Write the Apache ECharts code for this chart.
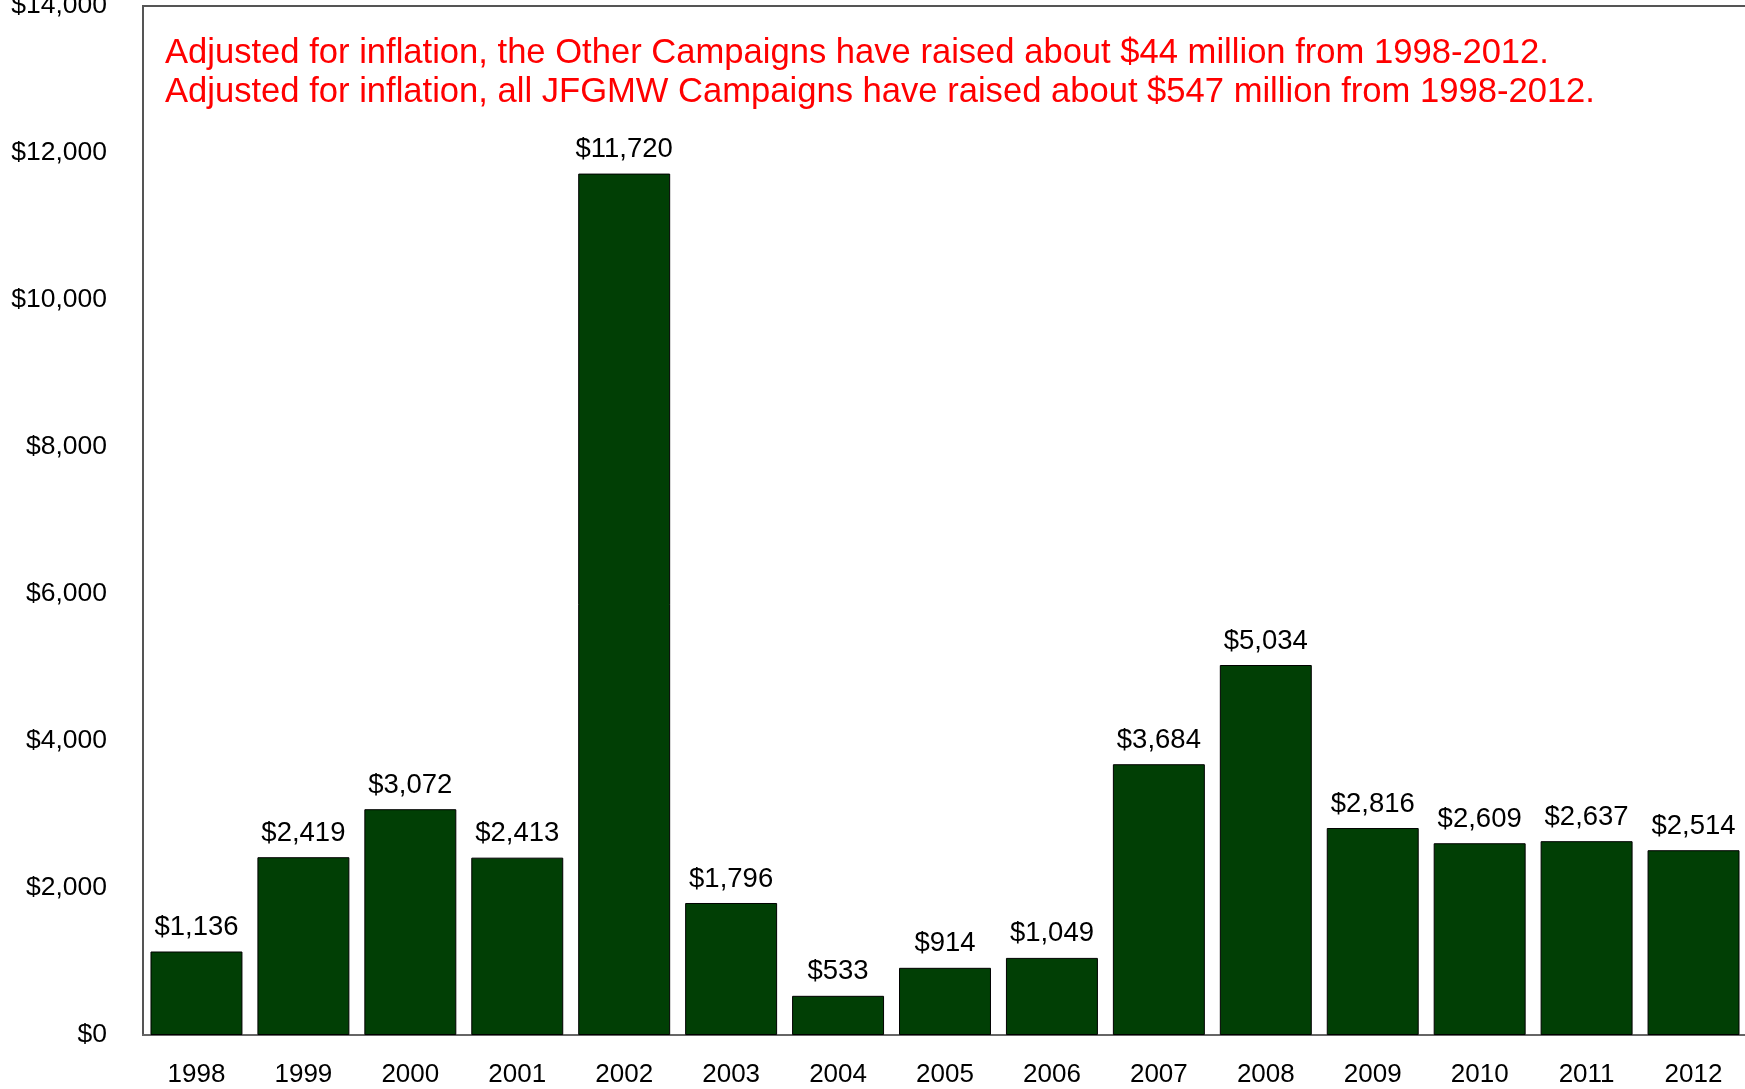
<!DOCTYPE html>
<html>
<head>
<meta charset="utf-8">
<script src="https://cdn.jsdelivr.net/npm/echarts@6/dist/echarts.min.js"></script>
<style>
html,body{margin:0;padding:0;background:#fff;}
#chart{width:1745px;height:1089px;}
</style>
</head>
<body>
<div id="chart"></div>
<script>
const years = ['1998','1999','2000','2001','2002','2003','2004','2005','2006','2007','2008','2009','2010','2011','2012'];
const amounts = [1136, 2419, 3072, 2413, 11720, 1796, 533, 914, 1049, 3684, 5034, 2816, 2609, 2637, 2514];
const yTicks = [0, 2000, 4000, 6000, 8000, 10000, 12000, 14000];
const noteLines = [
  'Adjusted for inflation, the Other Campaigns have raised about $44 million from 1998-2012.',
  'Adjusted for inflation, all JFGMW Campaigns have raised about $547 million from 1998-2012.'
];

const fmt = v => '$' + v.toLocaleString('en-US');
const FONT = '"Liberation Sans", Arial, sans-serif';

const chart = echarts.init(document.getElementById('chart'));
chart.setOption({
  animation: false,
  backgroundColor: '#fff',
  title: {
    text: noteLines.join('\n'),
    left: 165,
    top: 34,
    padding: 0,
    textStyle: { color: '#ff0000', fontSize: 34.6, lineHeight: 39, fontWeight: 'normal', fontFamily: FONT }
  },
  grid: {
    left: 143, right: -2, top: 6, bottom: 54,
    outerBoundsMode: 'none',
    containLabel: false,
    show: true, borderColor: '#555', borderWidth: 2, backgroundColor: 'transparent'
  },
  xAxis: {
    type: 'category',
    data: years,
    axisLine: { show: true, lineStyle: { color: '#666', width: 2 } },
    axisTick: { show: false },
    axisLabel: { color: '#000', fontSize: 26, fontFamily: FONT, margin: 27 },
    splitLine: { show: false }
  },
  yAxis: {
    type: 'value',
    min: yTicks[0],
    max: yTicks[yTicks.length - 1],
    interval: 2000,
    axisLine: { show: true, lineStyle: { color: '#555', width: 1 } },
    axisTick: { show: false },
    splitLine: { show: false },
    axisLabel: { color: '#000', fontSize: 26.5, fontFamily: FONT, margin: 36, formatter: fmt }
  },
  series: [{
    type: 'bar',
    data: amounts,
    barCategoryGap: '14%',
    itemStyle: { color: '#013f05', borderColor: '#000', borderWidth: 1 },
    label: {
      show: true, position: 'top', distance: 10,
      color: '#000', fontSize: 27.5, fontFamily: FONT,
      formatter: p => fmt(p.value)
    }
  }]
});
</script>
</body>
</html>
